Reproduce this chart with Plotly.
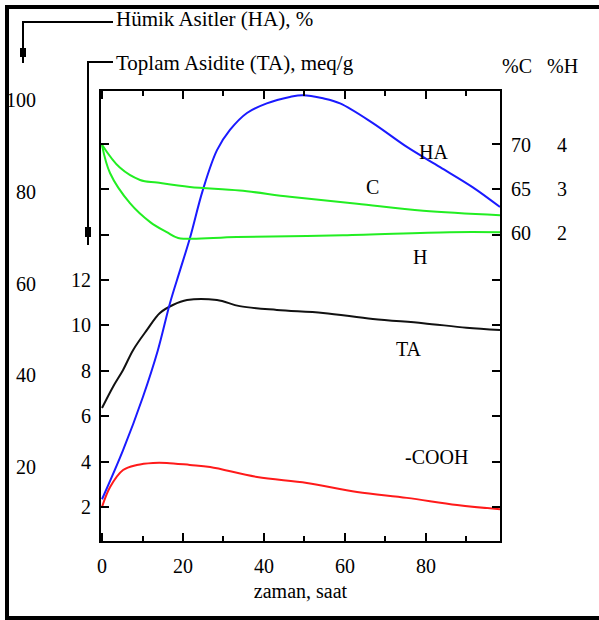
import plotly.graph_objects as go

# ---- data (time in hours) ----
ha_t = [0, 5.2, 10.1, 13.8, 16.8, 19.3, 21.7, 24.9, 28.4, 31.6, 35.8, 40.7, 46.4, 49.6, 54.6, 58.8, 66.9, 75.3, 83.5, 91.6, 98.3]
ha_v = [13.0, 23.7, 35.3, 45.5, 55.8, 63.0, 69.9, 80.4, 89.1, 93.5, 97.2, 99.3, 100.7, 101.1, 100.4, 99.3, 95.0, 89.8, 85.4, 81.0, 76.7]

ta_t = [0, 2.7, 5.2, 7.7, 11.1, 14.3, 17.5, 21.0, 28.4, 34.0, 43.2, 54.6, 66.9, 79.3, 90.0, 98.3]
ta_v = [6.36, 7.29, 8.04, 8.92, 9.80, 10.55, 10.9, 11.12, 11.12, 10.85, 10.68, 10.55, 10.28, 10.1, 9.9, 9.8]

cooh_t = [0, 2.0, 5.2, 8.6, 12.6, 16.0, 21.7, 26.7, 38.3, 50.6, 63.0, 75.3, 87.7, 98.3]
cooh_v = [2.0, 2.88, 3.63, 3.85, 3.94, 3.94, 3.85, 3.76, 3.32, 3.06, 2.66, 2.40, 2.09, 1.9]

c_t = [0, 4.4, 9.4, 13.6, 21.7, 34.0, 46.4, 63.0, 79.3, 98.3]
c_v = [70.0, 67.4, 66.0, 65.7, 65.2, 64.8, 64.1, 63.3, 62.5, 62.0]

h_t = [0, 2.0, 6.9, 11.9, 16.0, 18.8, 33.3, 59.5, 85.9, 98.3]
h_v = [4.0, 3.36, 2.68, 2.25, 2.02, 1.89, 1.91, 1.95, 2.02, 2.02]

x_ticks = [0, 20, 40, 60, 80]
ta_ticks = [2, 4, 6, 8, 10, 12, 14, 16, 18]
ta_labels = ["2", "4", "6", "8", "10", "12", "", "", ""]
ha_ticks = [20, 40, 60, 80, 100]
c_ticks = [60, 65, 70]
h_ticks = [2, 3, 4]

FONT = "Liberation Serif"

# pixel helpers for decorations (plot area: x 101..500, y 91..541)
def px(x):
    return (x - 101) / 399.0

def py(y):
    return (541 - y) / 450.0

fig = go.Figure()
fig.add_trace(go.Scatter(x=ha_t, y=ha_v, yaxis="y2", mode="lines", line=dict(color="#1a1aff", width=2), line_shape="spline", showlegend=False))
fig.add_trace(go.Scatter(x=ta_t, y=ta_v, yaxis="y", mode="lines", line=dict(color="#111111", width=2), line_shape="spline", showlegend=False))
fig.add_trace(go.Scatter(x=cooh_t, y=cooh_v, yaxis="y", mode="lines", line=dict(color="#ff1a1a", width=2), line_shape="spline", showlegend=False))
fig.add_trace(go.Scatter(x=c_t, y=c_v, yaxis="y3", mode="lines", line=dict(color="#22ee22", width=2), line_shape="spline", showlegend=False))
fig.add_trace(go.Scatter(x=h_t, y=h_v, yaxis="y4", mode="lines", line=dict(color="#22ee22", width=2), line_shape="spline", showlegend=False))

tickfont = dict(family=FONT, size=20, color="black")

fig.update_layout(
    width=599, height=620,
    margin=dict(l=101, r=99, t=91, b=79, autoexpand=False),
    paper_bgcolor="white", plot_bgcolor="white",
    font=dict(family=FONT, size=20, color="black"),
    xaxis=dict(
        domain=[0, 1], automargin=False,
        range=[-0.25, 98.3], tickvals=x_ticks, showgrid=False, zeroline=False,
        showline=True, linecolor="black", linewidth=2, mirror="ticks",
        ticks="inside", ticklen=8, tickwidth=2, tickcolor="black",
        minor=dict(dtick=10, tick0=0, ticks="inside", ticklen=5, tickwidth=2, tickcolor="black"),
        tickfont=tickfont, ticklabelstandoff=6,
        title=dict(text="zaman, saat", font=dict(family=FONT, size=20), standoff=8),
    ),
    yaxis=dict(
        automargin=False,
        range=[0.5, 20.33], tickvals=ta_ticks, ticktext=ta_labels, showgrid=False, zeroline=False,
        showline=True, linecolor="black", linewidth=2, mirror="ticks",
        ticks="inside", ticklen=8, tickwidth=2, tickcolor="black",
        tickfont=tickfont, ticklabelstandoff=4,
    ),
    yaxis2=dict(
        automargin=False,
        range=[3.9, 102], tickvals=ha_ticks, overlaying="y", side="left", anchor="free",
        position=0, showgrid=False, zeroline=False, showline=False, ticks="",
        tickfont=tickfont, ticklabelstandoff=65,
    ),
    yaxis3=dict(
        automargin=False,
        range=[25, 76.1], tickvals=c_ticks, overlaying="y", side="right", anchor="free",
        position=1.0, showgrid=False, zeroline=False, showline=False, ticks="",
        tickfont=tickfont, ticklabelstandoff=10,
    ),
    yaxis4=dict(
        automargin=False,
        range=[-5, 5.23], tickvals=h_ticks, overlaying="y", side="right", anchor="free",
        position=1.0, showgrid=False, zeroline=False, showline=False, ticks="",
        tickfont=tickfont, ticklabelstandoff=56,
    ),
)

# curve labels
labels = [("HA", 433, 152), ("C", 372, 187), ("H", 420, 257), ("TA", 409, 349), ("-COOH", 436, 457)]
for txt, lx, ly in labels:
    fig.add_annotation(text=txt, x=px(lx), y=py(ly), xref="paper", yref="paper",
                       xanchor="center", yanchor="middle",
                       showarrow=False, font=dict(family=FONT, size=20, color="black"))

# header texts
fig.add_annotation(text="Hümik Asitler (HA), %", x=px(114), y=py(19), xref="paper", yref="paper",
                   xanchor="left", yanchor="middle", showarrow=False, font=dict(family=FONT, size=21))
fig.add_annotation(text="Toplam Asidite (TA), meq/g", x=px(114), y=py(63), xref="paper", yref="paper",
                   xanchor="left", yanchor="middle", showarrow=False, font=dict(family=FONT, size=21))
fig.add_annotation(text="%C", x=px(517), y=py(66), xref="paper", yref="paper",
                   xanchor="center", yanchor="middle", showarrow=False, font=dict(family=FONT, size=20))
fig.add_annotation(text="%H", x=px(562), y=py(66), xref="paper", yref="paper",
                   xanchor="center", yanchor="middle", showarrow=False, font=dict(family=FONT, size=20))

# leader lines
fig.add_shape(type="path", xref="paper", yref="paper",
              path=f"M {px(113)} {py(22)} L {px(23)} {py(22)} L {px(23)} {py(63)}",
              line=dict(color="black", width=2))
fig.add_shape(type="rect", xref="paper", yref="paper", x0=px(20), x1=px(26), y0=py(48), y1=py(57),
              fillcolor="black", line=dict(width=0))
fig.add_shape(type="path", xref="paper", yref="paper",
              path=f"M {px(113)} {py(62)} L {px(88)} {py(62)} L {px(88)} {py(245)}",
              line=dict(color="black", width=2))
fig.add_shape(type="rect", xref="paper", yref="paper", x0=px(85), x1=px(91), y0=py(227), y1=py(237),
              fillcolor="black", line=dict(width=0))

# outer frame (right edge lies beyond the page)
fig.add_shape(type="rect", xref="paper", yref="paper", x0=px(7), x1=px(615), y0=py(7), y1=py(618),
              line=dict(color="black", width=4), fillcolor="rgba(0,0,0,0)")

fig.write_html("out.html")
